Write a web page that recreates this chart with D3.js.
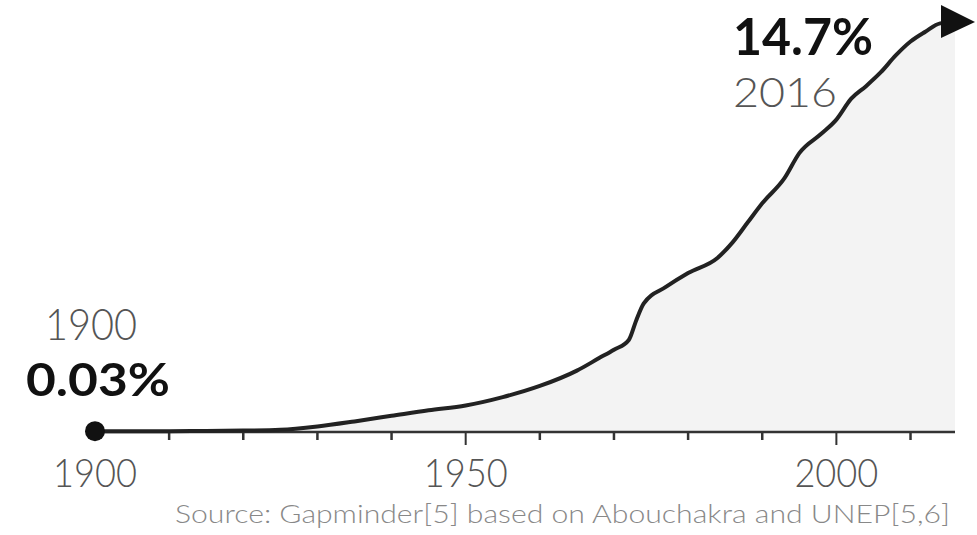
<!DOCTYPE html>
<html>
<head>
<meta charset="utf-8">
<script src="https://cdn.jsdelivr.net/npm/d3@7"></script>
<style>
  html, body { margin: 0; padding: 0; background: #fff; }
  svg { display: block; }
  text { font-family: Lato, "Open Sans", sans-serif; }
</style>
</head>
<body>
<svg id="chart" width="977" height="535"></svg>
<script>
// ---- data ----
const years  = [1900,1905,1910,1915,1920,1925,1930,1935,1940,1945,1950,1955,1960,1965,1968,1970,1972,1973,1974,1977,1980,1984,1986,1988,1990,1993,1995,1998,2000,2002,2004,2006,2008,2010,2012,2014,2016];
const shares = [0.03,0.03,0.03,0.04,0.05,0.08,0.2,0.38,0.58,0.78,0.95,1.25,1.65,2.2,2.65,2.95,3.3,4.0,4.6,5.2,5.7,6.25,6.8,7.5,8.2,9.1,10.0,10.7,11.2,11.95,12.4,12.9,13.5,14.0,14.35,14.65,14.7];
const majorTicks = [1900, 1950, 2000];
const minorTicks = [1910, 1920, 1930, 1940, 1960, 1970, 1980, 1990, 2010];
const startLabel = { year: "1900", value: "0.03%" };
const endLabel   = { year: "2016", value: "14.7%" };
const sourceText = "Source: Gapminder[5] based on Abouchakra and UNEP[5,6]";

const data = years.map((y, i) => ({ year: y, v: shares[i] }));

const svg = d3.select("#chart");
const x = d3.scaleLinear().domain([1900, 2016]).range([95, 955]);
const y = d3.scaleLinear().domain([0, 14.7]).range([432, 22]);

// area under curve
svg.append("path")
  .datum(data)
  .attr("fill", "#f3f3f3")
  .attr("d", d3.area().x(d => x(d.year)).y0(y(0)).y1(d => y(d.v)).curve(d3.curveMonotoneX));

// axis
const axisG = svg.append("g").attr("transform", `translate(0,${y(0)})`);
axisG.append("line").attr("x1", x(1900)).attr("x2", x(2016)).attr("stroke", "#333").attr("stroke-width", 2.5);
axisG.selectAll("line.minor").data(minorTicks).join("line")
  .attr("class", "minor")
  .attr("x1", d => x(d)).attr("x2", d => x(d)).attr("y1", 0).attr("y2", 8)
  .attr("stroke", "#333").attr("stroke-width", 2.5);
axisG.selectAll("line.major").data(majorTicks.filter(d => d !== 1900)).join("line")
  .attr("class", "major")
  .attr("x1", d => x(d)).attr("x2", d => x(d)).attr("y1", 0).attr("y2", 13)
  .attr("stroke", "#333").attr("stroke-width", 2);
axisG.selectAll("text.tl").data(majorTicks).join("text")
  .attr("class", "tl")
  .attr("x", d => x(d)).attr("y", 55)
  .attr("text-anchor", "middle")
  .attr("font-size", 40).attr("font-weight", 300).attr("fill", "#555")
  .attr("textLength", 84).attr("lengthAdjust", "spacingAndGlyphs")
  .text(d => d);

// line
svg.append("path")
  .datum(data)
  .attr("fill", "none")
  .attr("stroke", "#222")
  .attr("stroke-width", 4)
  .attr("stroke-linejoin", "round")
  .attr("d", d3.line().x(d => x(d.year)).y(d => y(d.v)).curve(d3.curveMonotoneX));

// start dot
svg.append("circle").attr("cx", x(1900)).attr("cy", y(shares[0])).attr("r", 10).attr("fill", "#111");

// end arrow
const ex = x(2016), ey = y(shares[shares.length - 1]);
svg.append("path")
  .attr("d", `M${ex - 14},${ey - 17} L${ex + 20},${ey} L${ex - 14},${ey + 16} Z`)
  .attr("fill", "#111");

// annotations
svg.append("text").attr("x", 45).attr("y", 340)
  .attr("font-size", 44).attr("font-weight", 300).attr("fill", "#555")
  .attr("textLength", 92).attr("lengthAdjust", "spacingAndGlyphs")
  .text(startLabel.year);
svg.append("text").attr("x", 26).attr("y", 396)
  .attr("font-size", 46).attr("font-weight", 700).attr("fill", "#111")
  .attr("textLength", 144).attr("lengthAdjust", "spacingAndGlyphs")
  .text(startLabel.value);
svg.append("text").attr("x", 733).attr("y", 55)
  .attr("font-size", 52).attr("font-weight", 700).attr("fill", "#111")
  .attr("textLength", 140).attr("lengthAdjust", "spacingAndGlyphs")
  .text(endLabel.value);
svg.append("text").attr("x", 733).attr("y", 107)
  .attr("font-size", 42).attr("font-weight", 300).attr("fill", "#555")
  .attr("textLength", 104).attr("lengthAdjust", "spacingAndGlyphs")
  .text(endLabel.year);

// source
svg.append("text").attr("x", 175).attr("y", 523)
  .attr("font-size", 25).attr("font-weight", 300).attr("fill", "#888")
  .attr("textLength", 775).attr("lengthAdjust", "spacingAndGlyphs")
  .text(sourceText);
</script>
</body>
</html>
